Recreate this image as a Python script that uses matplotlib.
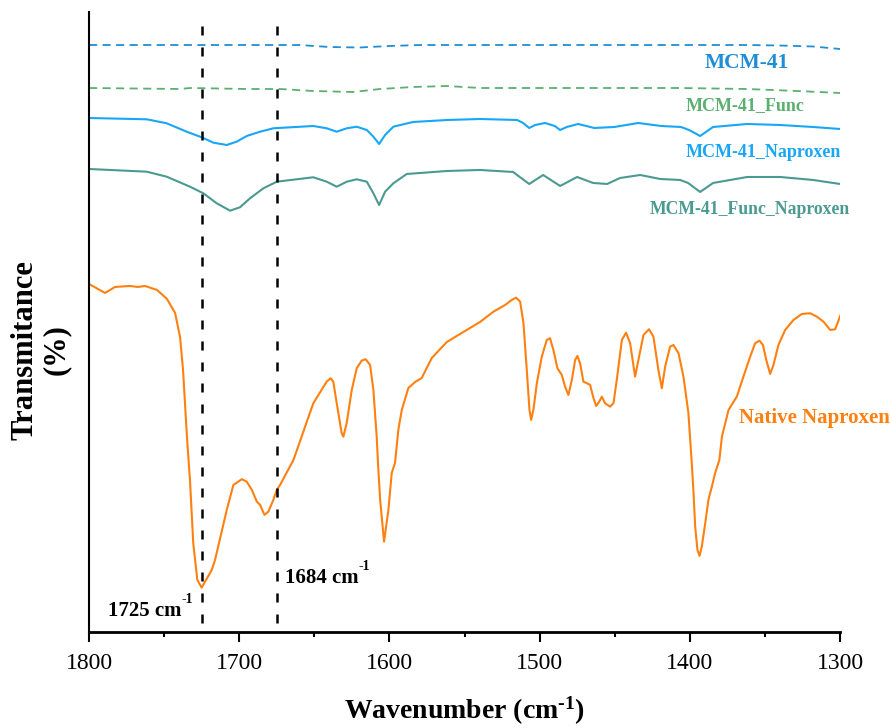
import matplotlib
matplotlib.use("Agg")
import matplotlib.pyplot as plt

# FTIR spectra, 1800-1300 cm-1 (transmittance in arbitrary offset units)
plt.rcParams['font.family'] = ['Liberation Serif', 'DejaVu Serif']
plt.rcParams['mathtext.fontset'] = 'custom'
plt.rcParams['mathtext.rm'] = 'Liberation Serif:bold'
plt.rcParams['mathtext.bf'] = 'Liberation Serif:bold'
plt.rcParams['mathtext.default'] = 'bf'

# MCM-41 (dashed)
mcm_wn = [1800, 1700, 1660, 1640, 1620, 1600, 1580, 1500, 1400, 1362, 1340, 1318, 1300]
mcm_t = [587, 587, 587, 585, 584.5, 586, 587, 587, 587, 587, 586.5, 585.5, 583]

# MCM-41_Func (dashed)
func_wn = [1800, 1739.4, 1732.8, 1694.8, 1672.8, 1650.9, 1624.2, 1606.2, 1584.3, 1561.6,
           1539.7, 1473.1, 1406.5, 1361.9, 1328.6, 1300]
func_t = [544, 543, 544, 543, 543, 541, 540, 543, 545, 546,
          544, 544, 544, 543, 541, 539]

# MCM-41_Naproxen
nap_wn = [1800, 1761.6, 1748.3, 1735.0, 1725.0, 1717.2, 1708.3, 1701.7, 1695.0, 1686.1,
          1677.3, 1650.7, 1641.8, 1635.1, 1628.4, 1621.8, 1615.1, 1610.7, 1606.9, 1602.9,
          1597.4, 1584.3, 1561.6, 1539.7, 1515.0, 1511.0, 1507.0, 1503.0, 1496.4, 1490.0,
          1486.4, 1482.0, 1474.4, 1463.6, 1450.3, 1434.4, 1419.2, 1405.9, 1400.6, 1393.2,
          1384.6, 1362.0, 1340.0, 1318.0, 1300]
nap_t = [514, 512.7, 508.7, 500.3, 494.7, 489.3, 487, 490.3, 496, 500.3,
         503.7, 506, 503.7, 500.3, 503.7, 505.3, 502, 495.3, 488, 497,
         505.3, 510, 512, 513, 512, 509, 504, 507, 509, 506,
         502, 505, 508, 504, 505, 509, 506, 505, 502, 496,
         505, 508, 507, 505, 503]

# MCM-41_Func_Naproxen
fnap_wn = [1800, 1761.6, 1748.3, 1732.8, 1723.9, 1715.0, 1706.1, 1699.5, 1692.8, 1683.9,
           1675.0, 1650.7, 1641.8, 1635.1, 1628.4, 1621.8, 1615.1, 1610.7, 1606.9, 1602.9,
           1597.4, 1588.5, 1561.6, 1539.7, 1517.7, 1507.0, 1497.7, 1486.4, 1475.1, 1464.4,
           1455.1, 1446.5, 1433.1, 1419.8, 1406.5, 1401.2, 1393.2, 1384.6, 1361.9, 1339.9,
           1318.0, 1300]
fnap_t = [463, 460.3, 455.3, 445.3, 438.7, 428.7, 421.3, 424.7, 433.7, 443.7,
          450.3, 454.7, 450.3, 445.3, 450.3, 452.7, 450.3, 438.7, 427, 440.3,
          448.7, 458, 461, 462, 460, 448, 457, 446, 455, 449,
          448, 454, 457, 453, 452, 449, 440, 449, 455, 455,
          452, 448]

# Native Naproxen
nat_wn = [1800, 1789.3, 1782.7, 1772.7, 1767.4, 1762.7, 1754.7, 1748.1, 1742.7, 1739.4,
          1737.4, 1734.8, 1732.8, 1730.6, 1727.9, 1725.0, 1722.1, 1718.3, 1716.1, 1708.3,
          1703.9, 1698.3, 1695.0, 1691.6, 1688.3, 1686.1, 1683.2, 1680.6, 1677.3, 1675.0,
          1672.8, 1663.9, 1650.7, 1641.8, 1639.1, 1637.4, 1635.1, 1631.8, 1630.7, 1628.5,
          1625.1, 1621.8, 1618.5, 1615.8, 1612.9, 1610.7, 1608.5, 1607.5, 1606.2, 1603.6,
          1600.7, 1598.5, 1596.3, 1594.1, 1591.8, 1587.4, 1582.9, 1578.5, 1575.2, 1571.8,
          1561.8, 1550.8, 1539.7, 1530.8, 1523.0, 1518.6, 1515.7, 1513.0, 1510.8, 1508.6,
          1506.8, 1505.7, 1504.2, 1501.9, 1498.6, 1495.3, 1493.1, 1490.9, 1488.2, 1485.3,
          1483.1, 1480.9, 1478.6, 1476.4, 1474.9, 1473.1, 1470.9, 1468.6, 1466.4, 1464.2,
          1462.4, 1460.4, 1458.6, 1456.5, 1453.1, 1450.9, 1448.7, 1445.3, 1442.5, 1439.8,
          1436.5, 1434.3, 1430.9, 1427.2, 1424.3, 1421.0, 1418.7, 1416.5, 1413.2, 1411.0,
          1407.6, 1404.3, 1401.0, 1398.7, 1397.6, 1396.5, 1395.0, 1393.6, 1392.1, 1389.8,
          1387.7, 1385.4, 1383.2, 1380.4, 1378.7, 1374.3, 1368.8, 1364.4, 1359.9, 1356.6,
          1353.7, 1351.4, 1349.2, 1346.6, 1344.4, 1341.1, 1336.6, 1331.1, 1325.5, 1320.0,
          1315.5, 1311.1, 1306.6, 1303.3, 1300]
nat_t = [348, 339, 345, 346, 345, 346, 342, 333, 319, 295,
         262, 195, 152, 88.7, 52, 44.3, 52, 62, 72, 122,
         147, 152.7, 150.3, 142, 130.3, 127, 117, 120.3, 132, 142,
         147, 172, 228.7, 250.3, 253.7, 250.3, 228.7, 198.7, 195.3, 208.7,
         242, 263.7, 271.3, 272.7, 267, 242, 195.3, 165, 132, 90.3,
         122, 159, 169, 202, 222, 244, 250, 254, 264, 274,
         290, 300, 310, 320.3, 327, 332, 334.3, 330.3, 308.7, 262,
         222, 212, 222, 248.7, 275.3, 292, 293.7, 282, 263.7, 257,
         245.3, 237, 252, 272, 276, 268.7, 250.3, 248.7, 247, 233.7,
         226, 230.3, 235.3, 228.7, 225.3, 228.7, 252, 292, 299.3, 288.7,
         255.3, 272, 297, 302.7, 295.3, 262, 243.7, 265.3, 285.3, 287,
         278.7, 255.3, 218.7, 167, 139, 105.3, 82, 76, 85.3, 108.7,
         132, 145.3, 159, 172, 195.3, 222, 235.3, 255.3, 275.3, 288.7,
         291.3, 287, 272, 258, 267, 287, 302, 312, 318, 318.7,
         315.3, 310.3, 302, 302.7, 316]

marked_wn = [1725, 1675]

fig = plt.figure(figsize=(8.9, 7.28), dpi=100)
ax = fig.add_axes([0.1, 0.132, 0.844, 0.8515])

ax.plot(mcm_wn, mcm_t, color='#1f8ed6', lw=1.3, linestyle=(0, (4.5, 3)))
ax.plot(func_wn, func_t, color='#5bb06f', lw=1.3, linestyle=(0, (4.5, 3)))
ax.plot(nap_wn, nap_t, color='#18a7f5', lw=1.5)
ax.plot(fnap_wn, fnap_t, color='#4b9a92', lw=1.5)
ax.plot(nat_wn, nat_t, color='#ff8010', lw=1.5)

for w in marked_wn:
    ax.plot([w, w], [9, 614], color='black', lw=1.8, linestyle=(0, (3.6, 4.8)))

ax.set_xlim(1800, 1300)
ax.set_ylim(0, 620)

ax.text(1362, 569, 'MCM-41', color='#1f8ed6', fontsize=15.5, fontweight='bold',
        ha='center', va='center')
ax.text(1363, 526, 'MCM-41_Func', color='#5bb06f', fontsize=13, fontweight='bold',
        ha='center', va='center')
ax.text(1351.3, 479, 'MCM-41_Naproxen', color='#18a7f5', fontsize=13, fontweight='bold',
        ha='center', va='center')
ax.text(1360, 422, 'MCM-41_Func_Naproxen', color='#4b9a92', fontsize=12.7, fontweight='bold',
        ha='center', va='center')
ax.text(1317.3, 214, 'Native Naproxen', color='#ff8010', fontsize=15, fontweight='bold',
        ha='center', va='center')

# peak annotations, superscript drawn as its own small text
ax.text(1787.3, 16, '1725 cm', fontsize=15, fontweight='bold', ha='left', va='baseline')
ax.text(1738.5, 29, '-1', fontsize=10, fontweight='bold', ha='left', va='baseline')
ax.text(1669.5, 49, '1684 cm', fontsize=15, fontweight='bold', ha='left', va='baseline')
ax.text(1620.5, 62, '-1', fontsize=10, fontweight='bold', ha='left', va='baseline')

ax.spines['top'].set_visible(False)
ax.spines['right'].set_visible(False)
ax.spines['left'].set_linewidth(1.5)
ax.spines['bottom'].set_linewidth(2.0)
ax.set_yticks([])
ax.set_xticks([1800, 1700, 1600, 1500, 1400, 1300])
ax.set_xticks([1750, 1650, 1550, 1450, 1350], minor=True)
ax.tick_params(axis='x', which='major', length=7, width=1.5, labelsize=17, pad=8)
ax.tick_params(axis='x', which='minor', length=3.5, width=1.5)

ax.set_xlabel('Wavenumber (cm$^{\u20101}$)', fontsize=20, fontweight='bold', labelpad=15)
ax.set_ylabel('Transmitance\n(%)', fontsize=22, fontweight='bold',
              linespacing=1.1)
ax.yaxis.set_label_coords(-0.024, 0.455)

fig.savefig('out.png', dpi=100)
